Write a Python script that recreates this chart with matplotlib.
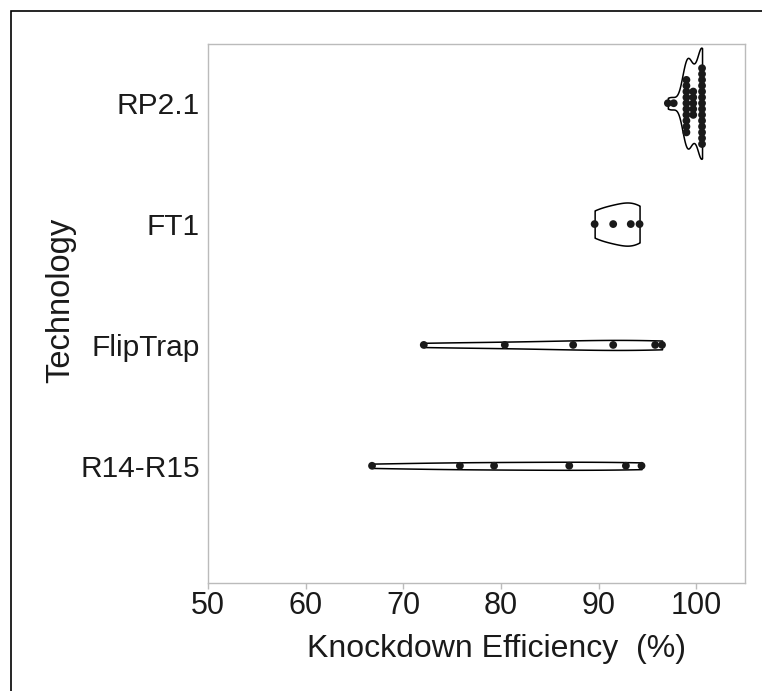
import matplotlib
matplotlib.use("Agg")
import matplotlib.pyplot as plt
import matplotlib.patheffects as pe
import seaborn as sns
import pandas as pd
from matplotlib.patches import Rectangle

categories = ["RP2.1", "FT1", "FlipTrap", "R14-R15"]

rp21 = [97.1, 97.7,
        99.0, 99.0, 99.0, 99.0, 99.0, 99.0, 99.0, 99.0, 99.0, 99.0,
        99.7, 99.7, 99.7, 99.7, 99.7,
        100.6, 100.6, 100.6, 100.6, 100.6, 100.6, 100.6,
        100.6, 100.6, 100.6, 100.6, 100.6, 100.6, 100.6]
ft1 = [89.6, 91.5, 93.3, 94.2]
fliptrap = [72.1, 80.4, 87.4, 91.5, 95.8, 96.5]
r14r15 = [66.8, 75.8, 79.3, 87.0, 92.8, 94.4]

xticks = [50, 60, 70, 80, 90, 100]

rows = []
for cat, vals in zip(categories, [rp21, ft1, fliptrap, r14r15]):
    for v in vals:
        rows.append({"Technology": cat, "KD": v})
df = pd.DataFrame(rows)

plt.rcParams['font.family'] = ['Liberation Sans', 'DejaVu Sans']

fig = plt.figure(figsize=(7.62, 6.91), dpi=100)
ax = fig.add_axes([208/762, 1 - 583/691, (745-208)/762, (583-44)/691])

sns.violinplot(data=df, x="KD", y="Technology", order=categories, orient="h",
               inner=None, cut=0, density_norm="area", width=0.92,
               color="white", linecolor="black", linewidth=1.1, ax=ax)
n_before = len(ax.collections)
sns.swarmplot(data=df, x="KD", y="Technology", order=categories, orient="h",
              color="#1a1a1a", size=4.0, linewidth=0, ax=ax)
for coll in ax.collections[n_before:]:
    coll.set_path_effects([pe.Stroke(linewidth=1.6, foreground="#1a1a1a"),
                           pe.Normal()])

ax.set_xlim(50, 105)
ax.set_ylim(3.97, -0.49)
ax.set_xticks(xticks)
ax.set_xticklabels([str(t) for t in xticks])
ax.tick_params(axis='x', labelsize=22, colors='#bbbbbb', labelcolor='#1a1a1a',
               length=4, width=1, pad=2)
ax.tick_params(axis='y', labelsize=21.5, labelcolor='#1a1a1a', length=0, pad=6)
for s in ax.spines.values():
    s.set_color('#bbbbbb')
    s.set_linewidth(1.0)
ax.set_xlabel("Knockdown Efficiency  (%)", fontsize=23, color='#1a1a1a')
ax.set_ylabel("Technology", fontsize=23.5, color='#1a1a1a')
ax.xaxis.set_label_coords(0.538, -0.095)
ax.xaxis.label.set_va('top')
ax.yaxis.set_label_coords(-0.245, 0.525)

fig.patches.append(Rectangle((11/762, -0.1), 1.2, (691-11)/691 + 0.1,
                             transform=fig.transFigure, fill=False,
                             edgecolor='black', linewidth=1.2))

fig.savefig("out.png", dpi=100)
